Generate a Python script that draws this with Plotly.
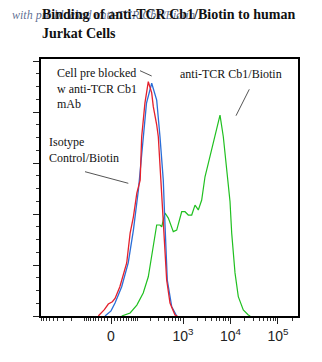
import numpy as np
import plotly.graph_objects as go

# Fluorescence intensity (anti-TCR Cb1/Biotin channel) and % of max
red_x = [-40, -20, -8, 4, 12, 27, 51, 65, 80, 98, 118, 128, 152, 181, 215, 233, 276, 299, 340, 382, 451, 531, 677, 760]
red_y = [0, 2.5, 4.7, 5.6, 6.9, 11.5, 20.8, 32.5, 38.9, 48.2, 53.3, 70.3, 83.5, 91.9, 87.5, 82.1, 75.0, 70.3, 53.0, 36.0, 14.1, 5.1, 0.4, 0]

blue_x = [-18, 0, 12, 33, 57, 80, 107, 137, 165, 215, 242, 276, 325, 382, 406, 465, 578, 736]
blue_y = [0, 2.0, 5.1, 11.5, 20.8, 33.7, 49.4, 70.3, 83.5, 91.3, 88.6, 84.7, 70.3, 53.3, 40.4, 14.1, 3.6, 0]

green_x = [33, 65, 98, 139, 181, 215, 254, 276, 325, 354, 416, 489, 623, 736, 938, 1101, 1293, 1525, 1790,
           2100, 2475, 2905, 3410, 4020, 4720, 6015, 7060, 8330, 9770, 10600, 12450, 14600, 18600, 23700, 26000]
green_y = [0, 1.2, 4.3, 9.0, 15.4, 23.3, 30.6, 35.7, 35.7, 35.0, 40.4, 38.4, 33.1, 33.7, 40.9, 40.9, 39.6, 39.6, 43.5,
           41.6, 45.5, 54.6, 59.9, 65.1, 70.3, 78.8, 70.3, 58.5, 44.9, 32.5, 16.9, 7.6, 2.4, 0.4, 0]

major_vals = [0, 1e3, 1e4, 1e5]
major_text = ["0", "10<sup>3</sup>", "10<sup>4</sup>", "10<sup>5</sup>"]


def logicle(v):
    """Biexponential display transform (decades)."""
    return np.arcsinh(np.asarray(v, dtype=float) / 61.0) / np.log(10)


minor_raw = ([-s * 10 for s in range(1, 10)] + [-s * 100 for s in range(1, 10)]
             + [s * 10 for s in range(1, 10)] + [s * 100 for s in range(1, 10)]
             + [s * 1000 for s in range(2, 10)] + [s * 10000 for s in range(2, 10)] + [2e5])

fig = go.Figure()
fig.add_trace(go.Scatter(x=logicle(green_x), y=green_y, mode="lines",
                         line=dict(color="#20c020", width=1.2), name="anti-TCR Cb1/Biotin"))
fig.add_trace(go.Scatter(x=logicle(blue_x), y=blue_y, mode="lines",
                         line=dict(color="#2a6ed8", width=1.3), name="Cell pre blocked"))
fig.add_trace(go.Scatter(x=logicle(red_x), y=red_y, mode="lines",
                         line=dict(color="#e4202c", width=1.3), name="Isotype Control/Biotin"))

# plot-area margins (pixels)
L, R, T, B = 41, 24, 59, 46
W, H = 322 - L - R, 362 - T - B


def px(x, y):
    """Page pixel -> paper coordinates of the plot area."""
    return (x - L) / W, (362 - B - y) / H


serif = "Liberation Serif"
labels = [
    (10, 15, "<i>with pre blocked anti-TCR Cb1/Biotin</i>", 12, "rgba(40,60,110,0.75)"),
    (40, 15, "<b>Binding of anti-TCR Cb1/Biotin to human</b>", 14, "#111"),
    (40, 34, "<b>Jurkat Cells</b>", 14, "#111"),
    (55, 88, "Cell pre blocked<br>w anti-TCR Cb1<br>mAb", 12, "#111"),
    (47, 150, "Isotype<br>Control/Biotin", 12, "#111"),
    (178, 74, "anti-TCR Cb1/Biotin", 12, "#111"),
]
anns = []
for (x, y, text, size, color) in labels:
    xx, yy = px(x, y)
    anns.append(dict(x=xx, y=yy, xref="paper", yref="paper", text=text, showarrow=False,
                     xanchor="left", yanchor="middle", align="left",
                     font=dict(family=serif, size=size, color=color)))
fig.layout.annotations = anns

# leader lines from labels to curves
for (x0, y0, x1, y1) in [(140, 70.7, 151.7, 76), (85, 171.7, 128.3, 183.3), (249.3, 89.3, 236, 115.7)]:
    a0, b0 = px(x0, y0)
    a1, b1 = px(x1, y1)
    fig.add_shape(type="line", xref="paper", yref="paper", x0=a0, y0=b0, x1=a1, y1=b1,
                  line=dict(color="#555", width=1))

fig.update_layout(
    width=322, height=362,
    margin=dict(l=L, r=R, t=T, b=B),
    paper_bgcolor="white", plot_bgcolor="white",
    showlegend=False,
    xaxis=dict(range=[-1.474, 3.937], tickmode="array", tickvals=logicle(major_vals), ticktext=major_text,
               ticks="outside", ticklen=6, tickwidth=1, tickcolor="#222",
               minor=dict(tickmode="array", tickvals=logicle(minor_raw), ticks="outside", ticklen=3,
                          tickwidth=1, tickcolor="#333"),
               showgrid=False, zeroline=False, showline=True, linecolor="black", linewidth=1.5, mirror=True,
               tickfont=dict(family="Liberation Sans", size=14, color="#222")),
    yaxis=dict(range=[0, 100.8], tickmode="linear", tick0=0, dtick=20, showticklabels=False,
               ticks="outside", ticklen=6, tickwidth=1, tickcolor="#222",
               minor=dict(dtick=5, ticks="outside", ticklen=3, tickwidth=1, tickcolor="#333"),
               showgrid=False, zeroline=False, showline=True, linecolor="black", linewidth=1.5, mirror=True),
)

fig.write_html("out.html")
